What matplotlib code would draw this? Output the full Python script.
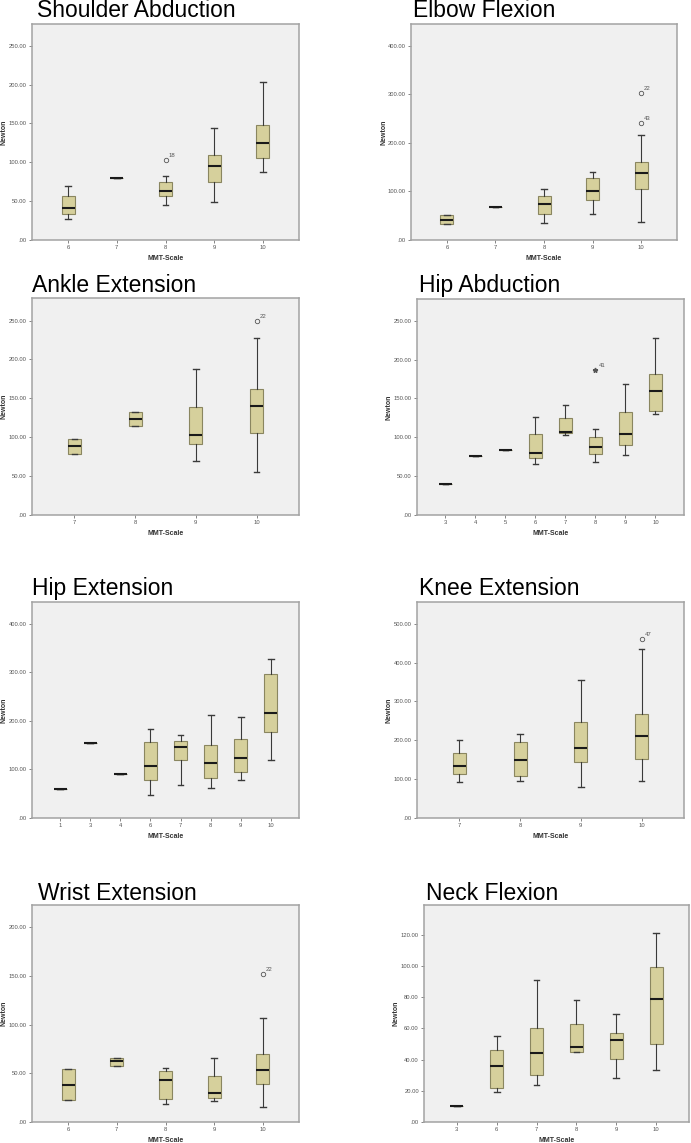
import matplotlib
matplotlib.use("Agg")
import matplotlib.pyplot as plt
from matplotlib.ticker import FuncFormatter

plt.rcParams['font.family'] = ['Liberation Sans', 'DejaVu Sans']

# box rows: (whisker low, Q1, median, Q3, whisker high); single value -> all equal
shoulder_cats = ['6', '7', '8', '9', '10']
shoulder_box = [(27, 34, 41, 57, 70), (80, 80, 80, 80, 80), (45, 56, 63, 75, 83),
                (49, 75, 95, 110, 144), (88, 106, 125, 148, 203)]
shoulder_out = [('8', 103, '18', 'o')]

elbow_cats = ['6', '7', '8', '9', '10']
elbow_box = [(32, 32, 42, 52, 52), (67, 67, 67, 67, 67), (36, 53, 74, 90, 105),
             (54, 83, 101, 127, 141), (38, 106, 139, 160, 217)]
elbow_out = [('10', 302, '22', 'o'), ('10', 241, '43', 'o')]

ankle_cats = ['7', '8', '9', '10']
ankle_box = [(79, 79, 89, 98, 98), (114, 114, 124, 133, 133),
             (70, 91, 103, 139, 188), (55, 105, 140, 162, 228)]
ankle_out = [('10', 250, '22', 'o')]

hipabd_cats = ['3', '4', '5', '6', '7', '8', '9', '10']
hipabd_box = [(39.5, 39.5, 39.5, 39.5, 39.5), (75.5, 75.5, 75.5, 75.5, 75.5),
              (83.5, 83.5, 83.5, 83.5, 83.5), (66, 73, 80, 104, 126),
              (103, 105, 107, 125, 141), (68, 79, 87, 100, 111),
              (77, 90, 104, 133, 169), (130, 134, 160, 181, 228)]
hipabd_out = [('8', 186, '41', '*')]

hipext_cats = ['1', '3', '4', '6', '7', '8', '9', '10']
hipext_box = [(60, 60, 60, 60, 60), (155, 155, 155, 155, 155), (91, 91, 91, 91, 91),
              (47, 79, 108, 157, 183), (67, 120, 147, 159, 172),
              (62, 83, 113, 150, 213), (79, 94, 124, 163, 208),
              (119, 178, 217, 296, 327)]
hipext_out = []

knee_cats = ['7', '8', '9', '10']
knee_box = [(92, 113, 134, 168, 202), (95, 109, 150, 196, 216),
            (79, 144, 180, 248, 355), (96, 152, 210, 268, 436)]
knee_out = [('10', 460, '47', 'o')]

wrist_cats = ['6', '7', '8', '9', '10']
wrist_box = [(23, 23, 38, 54, 54), (58, 58, 63, 66, 66), (19, 24, 43, 52, 55),
             (22, 25, 29.5, 47, 66), (15, 39, 53, 70, 107)]
wrist_out = [('10', 152, '22', 'o')]

neck_cats = ['3', '6', '7', '8', '9', '10']
neck_box = [(10, 10, 10, 10, 10), (19, 22, 36, 46, 55), (24, 30, 44, 60, 91),
            (45, 45, 48, 63, 78), (28, 40.5, 52.5, 57, 69), (33, 50, 79, 99, 121)]
neck_out = []

W, H = 691, 1143
fig = plt.figure(figsize=(W / 100, H / 100), dpi=100, facecolor='white')

BOX_FILL = '#d6d09c'
BOX_EDGE = '#8a8660'
FACE = '#f0f0f0'
SPINE = '#a3a3a3'


def fmt_tick(v, pos):
    return '.00' if v == 0 else f'{v:.2f}'


def panel(rect, title, title_xy, cats, rows, outs, ytop, ystep, pad):
    left, top, right, bottom = rect
    ax = fig.add_axes([left / W, 1 - bottom / H, (right - left) / W, (bottom - top) / H])
    ax.set_facecolor(FACE)
    pos = list(range(len(cats)))
    stats = [dict(whislo=r[0], q1=r[1], med=r[2], q3=r[3], whishi=r[4], fliers=[])
             for r in rows]
    spacing = (right - left) / (len(cats) - 1 + 2 * pad)
    wid = 13 / spacing
    ax.bxp(stats, positions=pos, widths=wid, capwidths=wid * 0.45, patch_artist=True,
           showfliers=False,
           boxprops=dict(facecolor=BOX_FILL, edgecolor=BOX_EDGE, linewidth=0.8),
           medianprops=dict(color='#1a1a1a', linewidth=1.5),
           whiskerprops=dict(color='#3a3a3a', linewidth=0.8),
           capprops=dict(color='#3a3a3a', linewidth=1.0))
    for cat, val, lab, mk in outs:
        x = cats.index(cat)
        if mk == 'o':
            ax.plot(x, val, 'o', ms=3.2, mfc='none', mec='#555555', mew=0.6)
        else:
            ax.plot(x, val, '*', ms=3.5, color='#555555')
        ax.annotate(lab, (x, val), xytext=(2.2, 2.2), textcoords='offset points',
                    fontsize=4.3, color='#555555')
    ax.set_xlim(-pad, len(cats) - 1 + pad)
    ax.set_ylim(0, ytop)
    ax.set_xticks(pos)
    ax.set_xticklabels(cats)
    ax.set_yticks([ystep * i for i in range(int(ytop // ystep) + 1)])
    ax.yaxis.set_major_formatter(FuncFormatter(fmt_tick))
    ax.tick_params(axis='both', labelsize=4.2, labelcolor='#555555', color='#555555',
                   length=2.2, width=0.5, pad=1.5)
    for s in ax.spines.values():
        s.set_color(SPINE)
        s.set_linewidth(1.1)
    ax.set_xlabel('MMT-Scale', fontsize=5, fontweight='bold', color='#333333')
    ax.xaxis.set_label_coords(0.5, -15 / (bottom - top))
    ax.set_ylabel('Newton', fontsize=5, fontweight='bold', color='#333333')
    ax.yaxis.set_label_coords(-24 / (right - left), 0.5)
    fig.text(title_xy[0] / W, 1 - title_xy[1] / H, title, fontsize=16.5,
             color='black', ha='left', va='baseline')
    return ax


panel((32, 24, 299, 240), 'Shoulder Abduction', (37, 17),
      shoulder_cats, shoulder_box, shoulder_out, 278, 50, 0.74)
panel((411, 24, 677, 240), 'Elbow Flexion', (413, 17),
      elbow_cats, elbow_box, elbow_out, 445, 100, 0.74)
panel((32, 298, 299, 515), 'Ankle Extension', (32, 292),
      ankle_cats, ankle_box, ankle_out, 279, 50, 0.7)
panel((417, 299, 684, 515), 'Hip Abduction', (419, 292),
      hipabd_cats, hipabd_box, hipabd_out, 278, 50, 0.95)
panel((32, 602, 299, 818), 'Hip Extension', (32, 595),
      hipext_cats, hipext_box, hipext_out, 445, 100, 0.94)
panel((417, 602, 684, 818), 'Knee Extension', (419, 595),
      knee_cats, knee_box, knee_out, 556, 100, 0.7)
panel((32, 905, 299, 1122), 'Wrist Extension', (38, 900),
      wrist_cats, wrist_box, wrist_out, 223, 50, 0.74)
panel((424, 905, 689, 1122), 'Neck Flexion', (426, 900),
      neck_cats, neck_box, neck_out, 139, 20, 0.82)

fig.savefig('out.png', dpi=100, facecolor='white')
